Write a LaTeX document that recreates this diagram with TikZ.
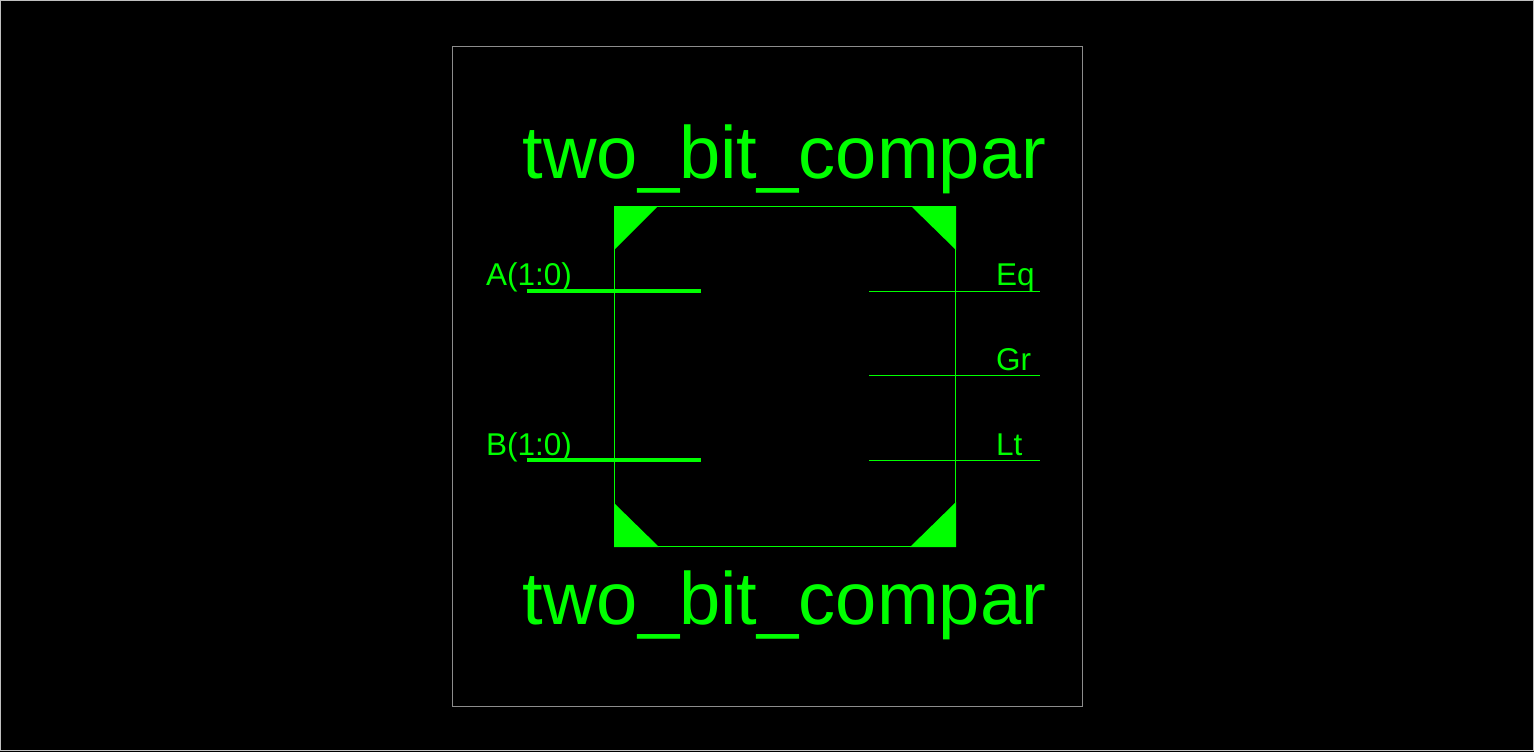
\documentclass[tikz,border=0pt]{standalone}
\usepackage{fontspec}
\setmainfont{Liberation Sans}
\usepackage{xcolor}
\usepackage{tikz}
\usetikzlibrary{positioning, calc}
\definecolor{wiregreen}{HTML}{00FF00}
\definecolor{framegray}{HTML}{8C8C8C}

\tikzset{
    titlelabel/.style={wiregreen, inner sep=0pt, anchor=base west, font=\fontsize{74.15}{74.15}\selectfont},
    portlabel/.style={wiregreen, inner sep=0pt, anchor=base west, font=\fontsize{31.5}{31.5}\selectfont},
    buswire/.style={wiregreen, line width=4pt},
    bitwire/.style={wiregreen, line width=1pt},
}

\begin{document}
\begin{tikzpicture}[x=1pt, y=-1pt]
        % Page and sheet frames
        \fill[black] (0,0) rectangle (1534,752);
        \draw[line width=1pt, lightgray] (0.5,0.5) rectangle (1533.5,750.5);
        \draw[line width=1pt, framegray] (452.5,46.5) rectangle (1082.5,706.5);

        % Symbol body
        \draw[bitwire] (614.5,206.5) rectangle (955.5,546.5);
        \fill[wiregreen] (614,206) -- (658,206) -- (614,250) -- cycle;
        \fill[wiregreen] (956,206) -- (911,206) -- (956,250) -- cycle;
        \fill[wiregreen] (614,547) -- (659,547) -- (614,503) -- cycle;
        \fill[wiregreen] (956,547) -- (910,547) -- (956,502) -- cycle;

        % Instance names
        \node[titlelabel] (nametop) at (522.5,178) {two\_bit\_compar};
        \node[titlelabel] (namebot) at (522.5,624) {two\_bit\_compar};

        % Inputs
        \coordinate (ain) at (527,291);
        \coordinate (aout) at (701,291);
        \coordinate (bin) at (527,460);
        \coordinate (bout) at (701,460);
        \draw[buswire] (ain) -- (aout);
        \draw[buswire] (bin) -- (bout);
        \node[portlabel] (alabel) at (486,285.5) {A(1:0)};
        \node[portlabel] (blabel) at (486,455) {B(1:0)};

        % Outputs
        \coordinate (eqin) at (869,291.5);
        \coordinate (eqout) at (1040,291.5);
        \coordinate (grin) at (869,375.5);
        \coordinate (grout) at (1040,375.5);
        \coordinate (ltin) at (869,460.5);
        \coordinate (ltout) at (1040,460.5);
        \draw[bitwire] (eqin) -- (eqout);
        \draw[bitwire] (grin) -- (grout);
        \draw[bitwire] (ltin) -- (ltout);
        \node[portlabel] (eqlabel) at (996,285.5) {Eq};
        \node[portlabel] (grlabel) at (996,370) {Gr};
        \node[portlabel] (ltlabel) at (996,455) {Lt};
    \end{tikzpicture}
\end{document}
